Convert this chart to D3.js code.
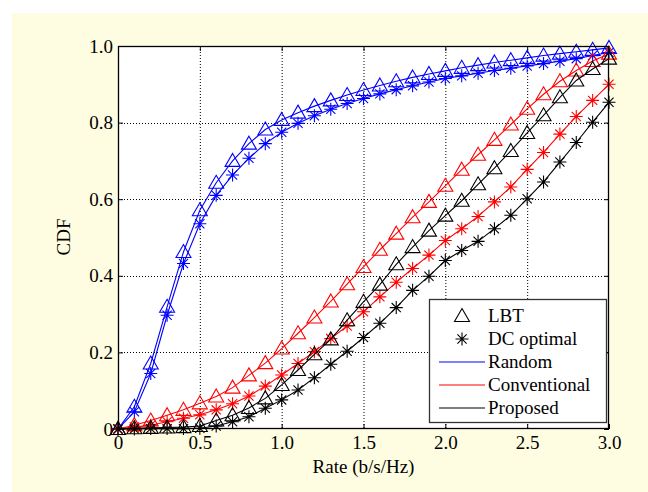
<!DOCTYPE html>
<html><head><meta charset="utf-8">
<script src="https://cdn.jsdelivr.net/npm/d3@7/dist/d3.min.js"></script>
<style>body{margin:0;background:#fff}svg{display:block}text{font-family:"Liberation Serif","Times New Roman",serif;fill:#000}</style>
</head><body><svg id="c" width="648" height="492"></svg>
<script>
const rates = d3.range(0, 31).map(i => +(i * 0.1).toFixed(1));
const xTicks = [0, 0.5, 1.0, 1.5, 2.0, 2.5, 3.0];
const xTickLabels = ["0", "0.5", "1.0", "1.5", "2.0", "2.5", "3.0"];
const yTicks = [0, 0.2, 0.4, 0.6, 0.8, 1.0];
const yTickLabels = ["0", "0.2", "0.4", "0.6", "0.8", "1.0"];

const lbtRandom = [0, 0.058, 0.171, 0.319, 0.462, 0.571, 0.643, 0.700, 0.745, 0.782, 0.807, 0.826, 0.843, 0.858, 0.872, 0.885, 0.897, 0.908, 0.918, 0.927, 0.935, 0.943, 0.950, 0.957, 0.963, 0.969, 0.975, 0.980, 0.985, 0.990, 0.995];
const dcRandom = [0, 0.045, 0.145, 0.297, 0.432, 0.536, 0.610, 0.663, 0.707, 0.745, 0.775, 0.798, 0.818, 0.835, 0.850, 0.863, 0.875, 0.886, 0.896, 0.906, 0.915, 0.922, 0.929, 0.936, 0.942, 0.948, 0.954, 0.960, 0.967, 0.975, 0.983];
const lbtConv = [0, 0.010, 0.022, 0.036, 0.050, 0.067, 0.085, 0.108, 0.140, 0.172, 0.210, 0.250, 0.291, 0.333, 0.378, 0.423, 0.468, 0.510, 0.553, 0.593, 0.635, 0.677, 0.716, 0.755, 0.795, 0.836, 0.874, 0.908, 0.936, 0.961, 0.980];
const dcConv = [0, 0.005, 0.010, 0.019, 0.028, 0.037, 0.050, 0.066, 0.086, 0.112, 0.141, 0.171, 0.202, 0.236, 0.269, 0.306, 0.345, 0.383, 0.419, 0.454, 0.492, 0.523, 0.555, 0.593, 0.632, 0.678, 0.722, 0.770, 0.816, 0.858, 0.900];
const lbtProp = [0, 0.002, 0.003, 0.004, 0.005, 0.008, 0.022, 0.036, 0.055, 0.080, 0.115, 0.154, 0.195, 0.234, 0.284, 0.332, 0.377, 0.430, 0.475, 0.518, 0.557, 0.596, 0.639, 0.681, 0.726, 0.773, 0.819, 0.866, 0.910, 0.940, 0.967];
const dcProp = [0, 0, 0.001, 0.001, 0.001, 0.002, 0.008, 0.019, 0.032, 0.054, 0.076, 0.102, 0.134, 0.169, 0.203, 0.239, 0.276, 0.317, 0.362, 0.399, 0.440, 0.466, 0.490, 0.523, 0.558, 0.601, 0.645, 0.697, 0.748, 0.801, 0.853];

const seriesList = [
  {values: lbtRandom, color: "#0000ff", marker: "tri"},
  {values: dcRandom, color: "#0000ff", marker: "star"},
  {values: lbtConv, color: "#ff0000", marker: "tri"},
  {values: dcConv, color: "#ff0000", marker: "star"},
  {values: lbtProp, color: "#000000", marker: "tri"},
  {values: dcProp, color: "#000000", marker: "star"}
];
const legendMarkers = [{label: "LBT", marker: "tri"}, {label: "DC optimal", marker: "star"}];
const legendLines = [{label: "Random", color: "#0000ff"}, {label: "Conventional", color: "#ff0000"}, {label: "Proposed", color: "#000000"}];

const FS = 19;
const svg = d3.select("#c");
svg.append("rect").attr("x", 12).attr("y", 13).attr("width", 636).attr("height", 479).attr("fill", "#fefde2");

const L = 118, R = 609, T = 46, B = 429;
const x = d3.scaleLinear().domain([0, 3]).range([L, R]);
const y = d3.scaleLinear().domain([0, 1]).range([B, T]);

svg.append("rect").attr("x", L).attr("y", T).attr("width", R - L).attr("height", B - T).attr("fill", "#fff");

// grid
const g = svg.append("g");
g.selectAll(".gx").data(xTicks.slice(1, -1)).join("line")
  .attr("x1", d => x(d) + 0.5).attr("x2", d => x(d) + 0.5).attr("y1", T).attr("y2", B)
  .attr("stroke", "#000").attr("stroke-width", 1).attr("stroke-dasharray", "1,2");
g.selectAll(".gy").data(yTicks.slice(1, -1)).join("line")
  .attr("y1", d => Math.round(y(d)) + 0.5).attr("y2", d => Math.round(y(d)) + 0.5).attr("x1", L).attr("x2", R)
  .attr("stroke", "#000").attr("stroke-width", 1).attr("stroke-dasharray", "1,2");

// axes
svg.append("g").attr("transform", `translate(0,${B})`)
  .call(d3.axisBottom(x).tickValues(xTicks).tickFormat((d, i) => xTickLabels[i]).tickSize(-5).tickPadding(7));
svg.append("g").attr("transform", `translate(${L},0)`)
  .call(d3.axisLeft(y).tickValues(yTicks).tickFormat((d, i) => yTickLabels[i]).tickSize(-5).tickPadding(5));
svg.append("g").attr("transform", `translate(0,${T})`)
  .call(d3.axisTop(x).tickValues(xTicks).tickFormat("").tickSize(-5));
svg.append("g").attr("transform", `translate(${R},0)`)
  .call(d3.axisRight(y).tickValues(yTicks).tickFormat("").tickSize(-5));
svg.selectAll(".domain").remove();
svg.selectAll(".tick line").attr("stroke", "#000");
svg.selectAll(".tick text").attr("font-size", FS).attr("fill", "#000");

// data
const line = d3.line().x((d, i) => x(rates[i])).y(d => y(d));

function drawMarker(sel, type, color) {
  if (type === "tri") {
    sel.append("path").attr("d", "M0,-7.5L7.5,5.5L-7.5,5.5Z").attr("fill", "none").attr("stroke", color).attr("stroke-width", 1.1);
  } else {
    const r = 6.5, q = 4.6;
    sel.append("path").attr("d", `M${-r},0L${r},0M0,${-r}L0,${r}M${-q},${-q}L${q},${q}M${-q},${q}L${q},${-q}`)
      .attr("fill", "none").attr("stroke", color).attr("stroke-width", 1.1);
  }
}

seriesList.forEach(s => {
  svg.append("path").datum(s.values).attr("d", line).attr("fill", "none").attr("stroke", s.color).attr("stroke-width", 1.1);
  s.values.forEach((v, i) => {
    const m = svg.append("g").attr("transform", `translate(${x(rates[i])},${y(v)})`);
    drawMarker(m, s.marker, s.color);
  });
});

// frame
svg.append("rect").attr("x", L + 0.5).attr("y", T + 0.5).attr("width", R - L - 1).attr("height", B - T - 1).attr("fill", "none").attr("stroke", "#000").attr("stroke-width", 1.3);

// legend
const lg = svg.append("g");
lg.append("rect").attr("x", 429.5).attr("y", 299.5).attr("width", 177).attr("height", 123).attr("fill", "#fff").attr("stroke", "#333").attr("stroke-width", 1.3);
const rowY = [316, 339, 362, 385, 408];
legendMarkers.forEach((d, i) => {
  const m = lg.append("g").attr("transform", `translate(462,${rowY[i]})`);
  drawMarker(m, d.marker, "#000");
  lg.append("text").attr("x", 488).attr("y", rowY[i] + 6).attr("font-size", FS).text(d.label);
});
legendLines.forEach((d, i) => {
  const yy = rowY[i + 2];
  lg.append("line").attr("x1", 439).attr("x2", 485).attr("y1", yy).attr("y2", yy).attr("stroke", d.color).attr("stroke-width", 1.1);
  lg.append("text").attr("x", 488).attr("y", yy + 6).attr("font-size", FS).text(d.label);
});

// axis labels
svg.append("text").attr("x", (L + R) / 2).attr("y", 473).attr("text-anchor", "middle").attr("font-size", FS).text("Rate (b/s/Hz)");
svg.append("text").attr("transform", "translate(70,237) rotate(-90)").attr("text-anchor", "middle").attr("font-size", FS).text("CDF");
</script></body></html>
